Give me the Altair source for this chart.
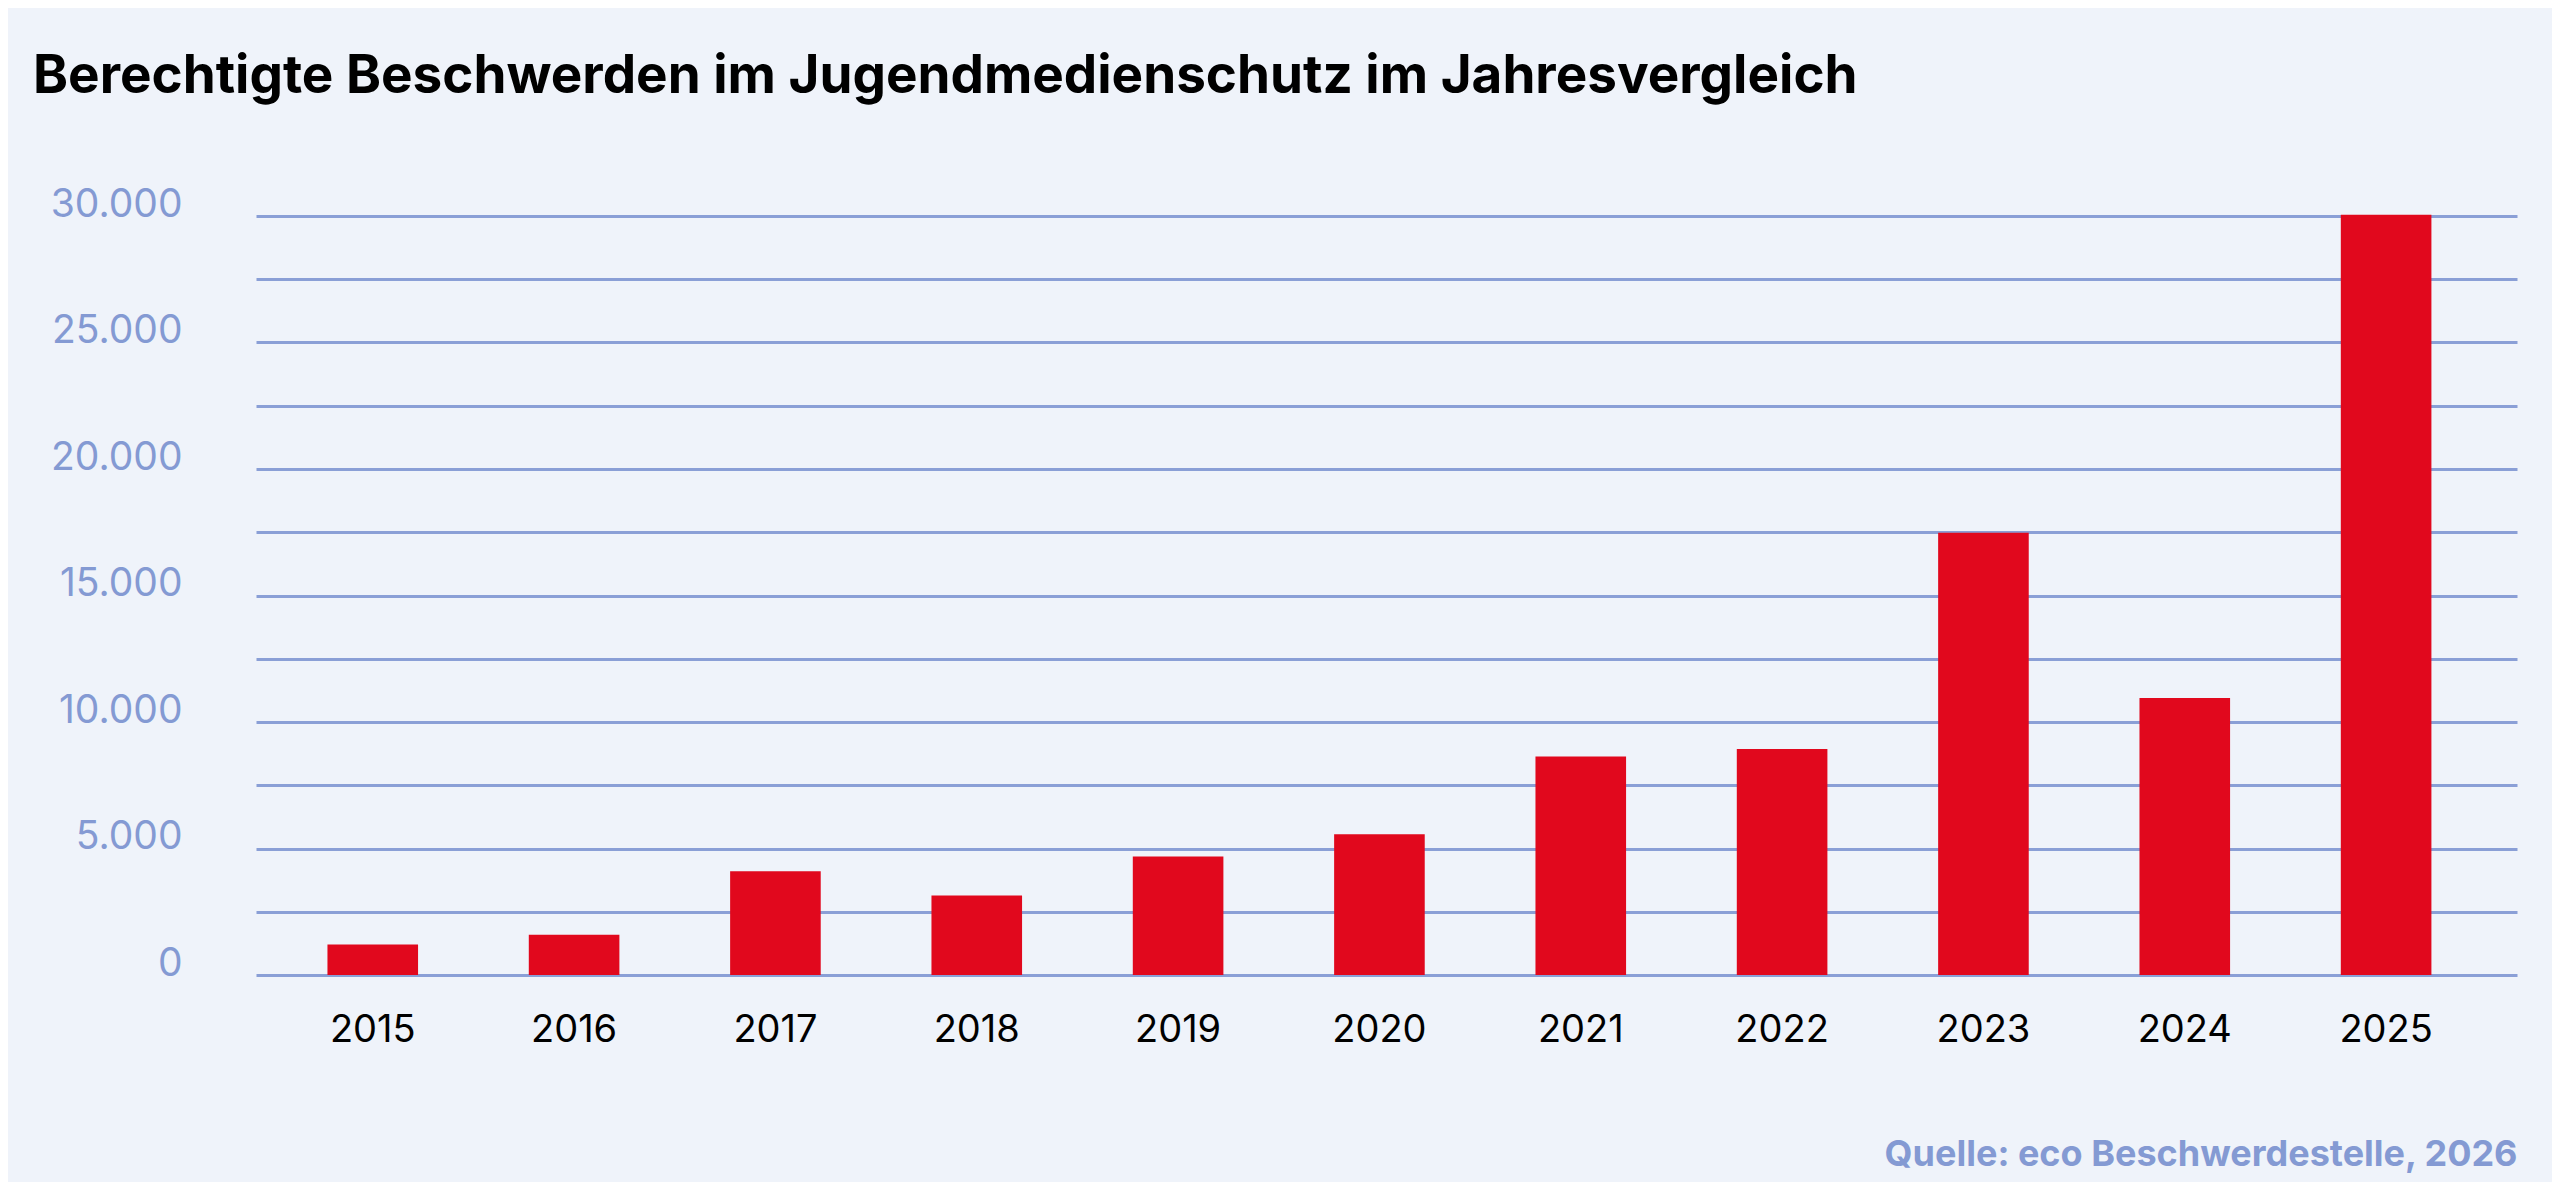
import altair as alt
import pandas as pd

years = ["2015", "2016", "2017", "2018", "2019", "2020", "2021", "2022", "2023", "2024", "2025"]
values = [1210, 1590, 4100, 3140, 4680, 5560, 8640, 8930, 17480, 10950, 30050]

df = pd.DataFrame({"Jahr": years, "Beschwerden": values})

W, H = 2261, 759
BG = "#eff3fa"
BLUE = "#8a9fd6"
LABEL_BLUE = "#849ad3"
RED = "#e1081d"
FONT = "Inter"

bars = alt.Chart(df).mark_bar(color=RED).encode(
    x=alt.X(
        "Jahr:N",
        sort=years,
        scale=alt.Scale(paddingInner=0.55, paddingOuter=0.39, align=0.455),
        axis=alt.Axis(
            title="Quelle: eco Beschwerdestelle, 2026",
            titleFont=FONT,
            titleFontSize=36,
            titleFontWeight=700,
            titleColor=LABEL_BLUE,
            titleAnchor="end",
            titleAlign="right",
            titleBaseline="alphabetic",
            titleX=W,
            titleY=190,
            labelAngle=0,
            labelFont=FONT,
            labelFontSize=38,
            labelColor="#000000",
            labelPadding=36,
            domain=False,
            ticks=False,
            grid=False,
        ),
    ),
    y=alt.Y(
        "Beschwerden:Q",
        scale=alt.Scale(domain=[0, 30000], nice=False),
        axis=alt.Axis(
            title=None,
            values=list(range(0, 30001, 2500)),
            labelExpr="datum.value % 5000 == 0 ? replace(format(datum.value, ','), ',', '.') : ''",
            labelFont=FONT,
            labelFontSize=39,
            labelColor=LABEL_BLUE,
            labelPadding=74,
            labelBaseline="alphabetic",
            labelAlign="right",
            domain=False,
            ticks=False,
            grid=True,
            gridColor=BLUE,
            gridWidth=3,
            gridOpacity=1,
            zindex=0,
        ),
    ),
)

chart = bars.properties(
    width=W,
    height=H,
    title=alt.Title(
        "Berechtigte Beschwerden im Jugendmedienschutz im Jahresvergleich",
        font=FONT,
        fontSize=53,
        fontWeight=700,
        color="#000000",
        anchor="start",
        frame="group",
        dx=-223,
        baseline="alphabetic",
        offset=39,
    ),
    autosize=alt.AutoSizeParams(type="none"),
    padding={"left": 248, "top": 208, "right": 35, "bottom": 207},
    background=BG,
).configure_view(stroke=None)

chart.save("out.html", embed_options={"renderer": "svg", "actions": False})
